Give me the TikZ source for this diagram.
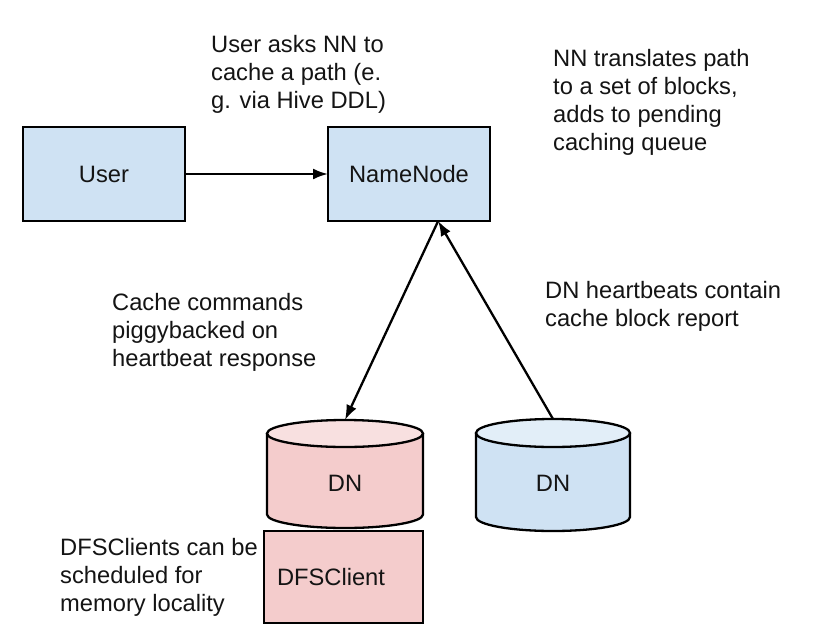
\documentclass[tikz,border=0pt]{standalone}
\usepackage{fontspec}
\setmainfont{Liberation Sans}
\usetikzlibrary{calc,arrows.meta}
\definecolor{boxblue}{HTML}{CFE2F3}
\definecolor{boxpink}{HTML}{F4CCCC}
\definecolor{txt}{HTML}{141414}
\newcommand\drawcyl[5]{%
  \filldraw[line width=2.3pt, fill=#4, line join=round] ($(#1.north west)+(0,#3)$) -- ($(#1.south west)+(0,-#3)$) arc[start angle=180,end angle=360,x radius=#2pt,y radius=#3pt] -- ($(#1.north east)+(0,#3)$) -- cycle;
  \filldraw[line width=2.3pt, fill=#5] ($(#1.north)+(0,#3)$) ellipse[x radius=#2pt, y radius=#3pt];
}
\begin{document}
\begin{tikzpicture}[x=1pt,y=-1pt,
  every node/.style={font=\fontsize{23.7}{28}\selectfont, text=txt},
  box/.style={draw=black, line width=2.3pt, minimum width=162pt, minimum height=94pt, inner sep=0pt, outer sep=0pt},
  cylbox/.style={inner sep=0pt, outer sep=0pt},
  note/.style={anchor=north west, align=left, inner sep=0pt},
  conn/.style={line width=2.3pt, -{Latex[length=15pt,width=11pt]}}
]
\fill[white] (0,0) rectangle (838,640);
\useasboundingbox (0,0) rectangle (838,640);

% boxes
\node[box, fill=boxblue] (user) at (104,174) {User};
\node[box, fill=boxblue] (nn) at (409,174) {NameNode};

% cylinders (placeholders)
\node[cylbox, minimum width=156pt, minimum height=108pt] (dn1) at (345,474) {};
\node[cylbox, minimum width=154pt, minimum height=112pt] (dn2) at (553,475) {};
\drawcyl{dn1}{78}{13.5}{boxpink}{boxpink!60!white}
\drawcyl{dn2}{77}{14}{boxblue}{boxblue!60!white}
\node[name=dn1lbl] at ($(dn1.center)+(0,9)$) {DN};
\node[name=dn2lbl] at ($(dn2.center)+(0,8)$) {DN};

% DFSClient box
\node[box, fill=boxpink, minimum width=159pt, minimum height=92pt, text width=133pt, align=left, inner xsep=13pt] (client) at (343.5,577) {DFSClient};

% notes
\node[note] (t1) at (211,35) {User asks NN to\\cache a path (e.\\g. via Hive DDL)};
\node[note] (t2) at (553,49) {NN translates path\\to a set of blocks,\\adds to pending\\caching queue};
\node[note] (t3) at (112,293) {Cache commands\\piggybacked on\\heartbeat response};
\node[note] (t4) at (545,281) {DN heartbeats contain\\cache block report};
\node[note] (t5) at (60,538) {DFSClients can be\\scheduled for\\memory locality};

% connectors
\coordinate (nnp) at ($(nn.south west)!0.68!(nn.south east)$);
\draw[conn] (user.east) -- (nn.west);
\draw[conn] (nnp) -- (dn1.north);
\draw[conn] (dn2.north) -- (nnp);
\end{tikzpicture}
\end{document}
